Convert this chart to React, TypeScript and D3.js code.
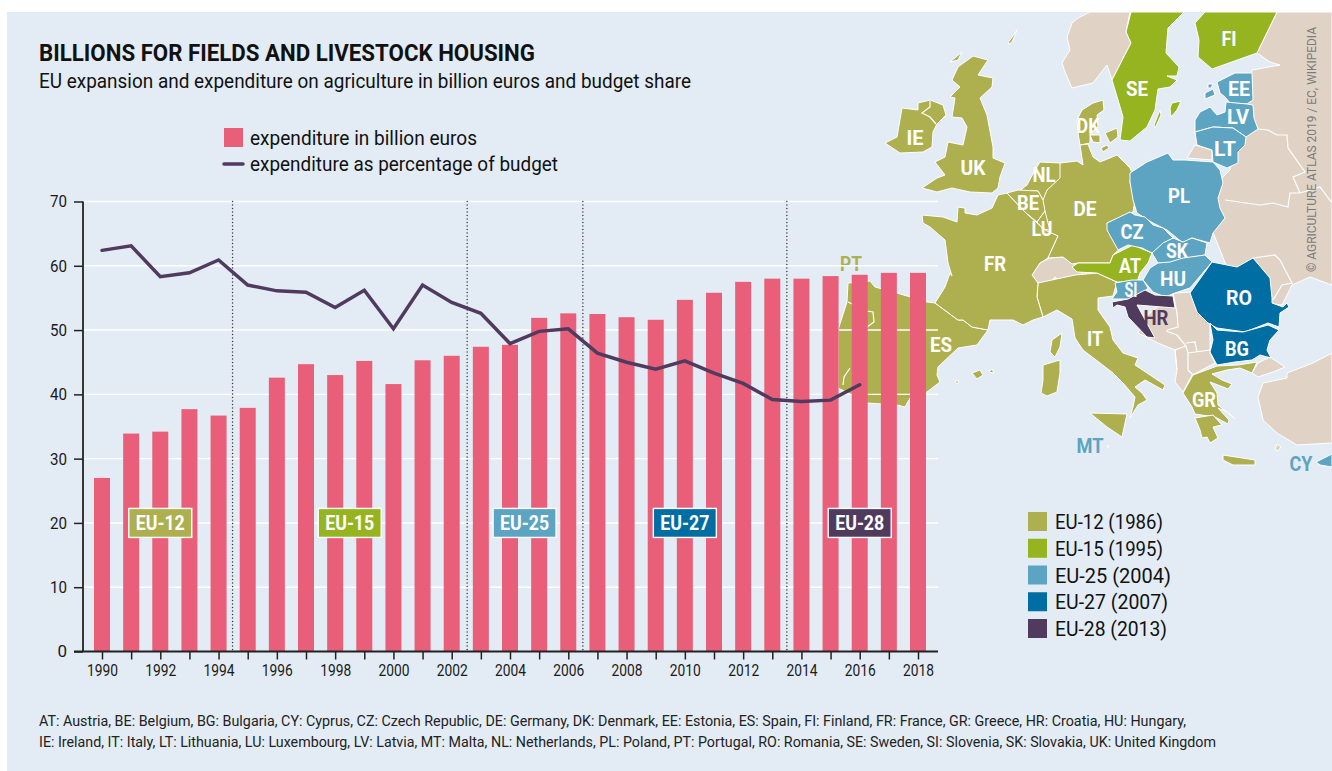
import React, { useEffect, useRef } from 'react';
import * as d3 from 'd3';

type Pt = [number, number];

const years = d3.range(1990, 2019);
const spending = [
  27, 33.9, 34.2, 37.7, 36.7, 37.9, 42.6, 44.7, 43, 45.2, 41.6, 45.3, 46, 47.4, 47.7, 51.9, 52.6,
  52.5, 52, 51.6, 54.7, 55.8, 57.5, 58, 58, 58.4, 58.6, 58.9, 58.9,
];
const budgetShare = [
  62.4, 63.1, 58.3, 58.9, 60.9, 57, 56.1, 55.9, 53.5, 56.2, 50.2, 57, 54.3, 52.6, 47.9, 49.8, 50.2,
  46.4, 45, 43.9, 45.2, 43.3, 41.7, 39.2, 38.9, 39.1, 41.5,
];
const yTicks = [0, 10, 20, 30, 40, 50, 60, 70];
const enlargementBreaks = [1994.48, 2002.53, 2006.5, 2013.5];

const OLIVE = '#aeb04f';
const GREEN = '#96b420';
const LIGHT_BLUE = '#5ca4c1';
const DARK_BLUE = '#006ea3';
const PURPLE = '#503a5e';
const PINK = '#e95f7a';
const BEIGE = '#e0d3c6';
const SEA = '#e3ecf4';

const eras = [
  { name: 'EU-12', at: 1992, color: OLIVE },
  { name: 'EU-15', at: 1998.5, color: GREEN },
  { name: 'EU-25', at: 2004.5, color: LIGHT_BLUE },
  { name: 'EU-27', at: 2010, color: DARK_BLUE },
  { name: 'EU-28', at: 2016, color: PURPLE },
];
const eraLegend = [
  { label: 'EU-12 (1986)', color: OLIVE, w: 108 },
  { label: 'EU-15 (1995)', color: GREEN, w: 108 },
  { label: 'EU-25 (2004)', color: LIGHT_BLUE, w: 116 },
  { label: 'EU-27 (2007)', color: DARK_BLUE, w: 113 },
  { label: 'EU-28 (2013)', color: PURPLE, w: 112 },
];

// map outlines, traced in page pixels
const beigeLand: Pt[][] = [
  [[1090,12],[1130,12],[1126,32],[1131,43],[1112,80],[1107,65],[1093,83],[1072,88],[1065,72],[1062,63],[1070,50],[1067,37],[1072,23],[1078,18]],
  [[1277,12],[1332,12],[1332,285],[1310,277],[1292,285],[1282,305],[1240,300],[1200,200],[1230,170],[1252,70],[1280,65],[1270,62],[1257,53]],
  [[1195,145],[1212,150],[1212,160],[1187,158]],
  [[1258,363],[1270,357],[1285,367],[1273,372],[1258,377],[1252,373]],
  [[1287,373],[1313,363],[1332,353],[1332,443],[1297,445],[1277,433],[1263,420],[1258,397],[1263,383],[1287,378]],
  [[1175,293],[1190,292],[1198,307],[1210,323],[1210,353],[1215,363],[1192,375],[1183,392],[1175,382],[1177,370],[1175,350],[1158,343],[1138,333],[1145,317]],
  [[1032,275],[1040,263],[1050,258],[1063,257],[1073,263],[1083,275],[1075,282],[1067,278],[1063,283],[1055,277],[1050,283],[1038,283]],
  [[1277,444],[1281,447],[1278,451],[1275,449]],
];
const oliveLand: Pt[][] = [
  // Italy and islands
  [[1043,317],[1037,297],[1038,283],[1075,275],[1097,273],[1117,282],[1113,296],[1098,298],[1098,310],[1110,327],[1113,340],[1123,353],[1138,358],[1135,365],[1165,385],[1163,390],[1145,380],[1135,387],[1142,393],[1147,400],[1138,405],[1130,418],[1133,407],[1135,397],[1123,383],[1113,373],[1100,363],[1083,350],[1075,338],[1072,319],[1057,310]],
  [[1043,365],[1060,360],[1060,373],[1057,392],[1047,396],[1041,393],[1043,380]],
  [[1052,340],[1062,333],[1060,347],[1055,357],[1050,352]],
  [[1090,413],[1127,414],[1122,437],[1107,427]],
  // Spain and Portugal
  [[935,303],[927,302],[897,293],[875,287],[870,281],[848,283],[847,302],[838,330],[838,388],[846,392],[867,403],[897,405],[905,407],[910,398],[927,392],[940,382],[937,375],[938,367],[958,348],[977,345],[988,330],[972,327],[963,320],[958,320]],
  [[972,373],[980,370],[983,375],[977,379]],
  [[989,372],[992,369],[994,373]],
  [[955,381],[959,381],[957,384]],
  // France
  [[1007,193],[1025,212],[1037,223],[1058,236],[1048,258],[1040,263],[1032,275],[1038,283],[1037,297],[1043,317],[1033,320],[1023,325],[1013,320],[990,320],[988,330],[972,327],[963,320],[958,320],[935,303],[945,287],[950,273],[952,276],[948,263],[945,240],[930,227],[923,223],[922,215],[943,217],[957,222],[958,207],[965,208],[965,213],[977,215],[992,208],[998,195]],
  // UK and Ireland
  [[973,56],[988,60],[978,75],[993,78],[992,87],[980,98],[987,115],[993,147],[993,158],[1005,163],[1000,177],[998,188],[992,193],[970,192],[952,188],[937,192],[922,188],[937,178],[945,175],[935,162],[945,157],[948,142],[963,145],[967,127],[962,118],[952,117],[955,98],[950,97],[960,87],[952,80],[958,67]],
  [[1008,43],[1017,30],[1012,42],[1009,44]],
  [[950,62],[962,52],[958,60]],
  [[885,143],[897,137],[902,108],[918,110],[918,103],[930,100],[943,105],[946,115],[937,124],[933,132],[932,147],[923,152],[900,153]],
  // Denmark
  [[1082,110],[1093,103],[1103,100],[1104,110],[1097,115],[1098,127],[1090,133],[1090,143],[1080,145],[1078,133],[1077,120]],
  [[1105,133],[1117,128],[1118,137],[1110,143]],
  [[1090,135],[1100,135],[1100,143],[1093,142]],
  [[1101,148],[1107,145],[1109,148],[1103,152]],
  // Germany, Benelux
  [[1060,163],[1077,161],[1083,165],[1080,145],[1088,144],[1093,157],[1100,162],[1117,155],[1130,168],[1132,173],[1130,182],[1135,200],[1133,212],[1107,223],[1112,238],[1122,247],[1113,255],[1110,263],[1078,263],[1072,264],[1063,257],[1048,258],[1058,236],[1045,230],[1037,223],[1045,212],[1040,203],[1047,190],[1058,178]],
  [[1040,162],[1060,163],[1060,178],[1047,190],[1043,200],[1038,191],[1018,192],[1027,185],[1035,170]],
  [[1007,193],[1018,190],[1038,191],[1043,200],[1045,211],[1037,222],[1025,212]],
  [[1037,222],[1045,211],[1048,223],[1050,230],[1043,229]],
  // Greece
  [[1193,375],[1217,366],[1238,365],[1257,362],[1252,373],[1240,368],[1227,370],[1212,374],[1222,380],[1232,384],[1228,389],[1218,385],[1210,382],[1217,393],[1218,405],[1235,419],[1228,412],[1218,408],[1229,420],[1228,424],[1215,417],[1195,414],[1192,407],[1183,393]],
  [[1195,418],[1213,415],[1222,425],[1213,427],[1218,438],[1210,443],[1207,437],[1202,438],[1200,430]],
  [[1223,455],[1255,460],[1255,465],[1233,465],[1223,460]],
];
const greenLand: Pt[][] = [
  [[1131,12],[1184,12],[1168,28],[1166,53],[1179,67],[1177,76],[1167,76],[1177,80],[1170,87],[1158,89],[1155,110],[1147,127],[1130,141],[1120,140],[1123,117],[1118,100],[1112,80],[1131,43],[1126,32]],
  [[1172,103],[1181,101],[1177,110],[1171,117],[1170,108]],
  [[1160,110],[1161,115],[1155,128],[1154,125]],
  [[1205,12],[1277,12],[1257,53],[1212,69],[1198,57],[1199,40],[1195,23]],
  [[1072,267],[1078,263],[1110,263],[1113,255],[1133,245],[1152,253],[1148,263],[1140,273],[1137,282],[1117,282],[1097,273],[1077,272]],
];
const lightBlueLand: Pt[][] = [
  [[1130,173],[1147,162],[1168,153],[1173,160],[1185,160],[1213,162],[1220,170],[1223,183],[1218,198],[1220,208],[1225,218],[1213,233],[1210,243],[1192,238],[1183,243],[1167,230],[1153,223],[1137,213],[1133,200],[1130,182]],
  [[1107,223],[1130,212],[1135,215],[1145,217],[1153,225],[1163,228],[1173,238],[1152,253],[1142,248],[1128,245],[1118,250],[1107,230]],
  [[1152,253],[1163,243],[1173,238],[1183,242],[1192,238],[1207,243],[1205,255],[1183,260],[1170,263],[1158,263]],
  [[1158,263],[1170,262],[1183,258],[1205,255],[1212,262],[1190,288],[1175,293],[1165,297],[1153,292],[1143,280],[1150,268]],
  [[1115,283],[1132,280],[1143,280],[1148,288],[1138,297],[1128,299],[1112,299],[1117,292]],
  [[1217,82],[1235,73],[1252,73],[1253,100],[1247,104],[1230,103],[1225,97],[1220,93]],
  [[1195,120],[1200,112],[1210,107],[1217,115],[1225,112],[1226,102],[1247,104],[1253,105],[1254,118],[1258,129],[1246,137],[1233,128],[1213,127],[1195,132]],
  [[1195,132],[1213,127],[1233,128],[1246,137],[1245,145],[1238,152],[1238,163],[1227,168],[1213,162],[1212,150],[1197,145]],
  [[1208,84],[1213,84],[1211,88],[1208,88]],
  [[1205,93],[1213,89],[1215,95],[1205,99]],
  [[1316,462],[1332,454],[1332,467],[1320,465]],
  [[1107,445],[1109,446],[1108,448]],
];
const darkBlueLand: Pt[][] = [
  [[1212,262],[1237,267],[1253,258],[1270,278],[1272,298],[1272,303],[1283,307],[1287,303],[1289,307],[1280,313],[1279,327],[1268,323],[1245,332],[1217,328],[1208,323],[1197,312],[1190,293]],
  [[1210,323],[1217,330],[1243,332],[1268,325],[1279,330],[1270,340],[1267,350],[1271,358],[1260,355],[1252,360],[1235,362],[1217,365],[1210,352],[1213,340]],
];
const purpleLand: Pt[][] = [
  [[1112,302],[1128,299],[1145,290],[1155,295],[1173,296],[1175,308],[1137,305],[1155,338],[1147,337],[1128,317],[1125,307],[1117,305],[1113,308]],
];
const borders: Pt[][] = [
  [[930,101],[930,107],[922,113],[930,117],[936,124]],
  [[848,302],[867,311],[873,312],[874,322],[867,327]],
  [[850,368],[844,377],[843,385]],
  [[1253,258],[1275,255],[1280,260],[1292,283],[1282,285],[1273,300]],
  [[1225,200],[1260,205],[1273,203],[1288,207],[1290,193],[1300,193],[1320,187],[1332,203]],
  [[1258,129],[1268,130],[1277,135],[1287,135],[1288,148],[1305,172],[1293,177],[1300,193]],
  [[1166,331],[1177,335],[1186,346],[1175,350],[1177,370]],
  [[1186,346],[1188,353],[1188,370],[1193,375]],
  [[1188,353],[1210,350]],
  [[1186,343],[1195,342],[1197,352]],
  [[1173,293],[1177,313],[1178,327],[1167,330]],
];

const mapLabels = [
  { t: 'IE', x: 915, y: 137, w: 17 }, { t: 'UK', x: 973, y: 167, w: 25 }, { t: 'DK', x: 1088, y: 125, w: 23 },
  { t: 'NL', x: 1044, y: 174, w: 23 }, { t: 'BE', x: 1028, y: 202, w: 22 }, { t: 'LU', x: 1042, y: 228, w: 21 },
  { t: 'DE', x: 1085, y: 208, w: 23 }, { t: 'FR', x: 995, y: 263, w: 22 }, { t: 'ES', x: 941, y: 344, w: 22 },
  { t: 'IT', x: 1095, y: 338, w: 16 }, { t: 'AT', x: 1130, y: 265, w: 22 }, { t: 'CZ', x: 1132, y: 231, w: 23 },
  { t: 'SK', x: 1177, y: 250, w: 22 }, { t: 'HU', x: 1173, y: 278, w: 26 }, { t: 'PL', x: 1179, y: 195, w: 22 },
  { t: 'SI', x: 1131, y: 289, w: 13 }, { t: 'RO', x: 1239, y: 297, w: 26 }, { t: 'BG', x: 1237, y: 348, w: 24 },
  { t: 'GR', x: 1204, y: 399, w: 24 }, { t: 'SE', x: 1137, y: 88, w: 22 }, { t: 'FI', x: 1229, y: 38, w: 15 },
  { t: 'EE', x: 1239, y: 88, w: 22 }, { t: 'LV', x: 1238, y: 116, w: 22 }, { t: 'LT', x: 1225, y: 148, w: 22 },
  { t: 'HR', x: 1156, y: 317, w: 25, c: PURPLE }, { t: 'PT', x: 851, y: 263, w: 22, c: OLIVE },
  { t: 'MT', x: 1090, y: 445, w: 27, c: LIGHT_BLUE }, { t: 'CY', x: 1301, y: 463, w: 23, c: LIGHT_BLUE },
];

const FONT = 'Roboto, sans-serif';

const x = d3.scaleLinear().domain([1990, 2018]).range([102, 918]);
const y = d3.scaleLinear().domain([0, 70]).range([651.5, 201.5]);
const BAR_W = 16;

const ring = d3.line<Pt>().curve(d3.curveLinearClosed);
const open = d3.line<Pt>();
const shareLine = d3
  .line<number>()
  .x((_, i) => x(years[i]))
  .y((d) => y(d));

const Land = ({ shapes, fill }: { shapes: Pt[][]; fill: string }) => (
  <g fill={fill} stroke="#fff" strokeWidth={1} strokeLinejoin="round">
    {shapes.map((s, i) => (
      <path key={i} d={ring(s) as string} />
    ))}
  </g>
);

const App = () => {
  const xAxisRef = useRef<SVGGElement>(null);
  const yAxisRef = useRef<SVGGElement>(null);

  useEffect(() => {
    const xAxis = d3
      .axisBottom(x)
      .tickValues(years)
      .tickSize(8)
      .tickFormat((d) => (+d % 2 === 0 ? String(d) : ''));
    const gx = d3.select(xAxisRef.current!).call(xAxis as any);
    gx.select('.domain').remove();
    gx.selectAll('line').attr('stroke', '#222').attr('stroke-width', 1.5);
    gx.selectAll('text')
      .attr('fill', '#1a1a1a')
      .attr('y', 13)
      .style('font', `16.5px ${FONT}`)
      .filter((d: any) => d % 2 === 0)
      .attr('textLength', 31)
      .attr('lengthAdjust', 'spacingAndGlyphs');

    const yAxis = d3.axisLeft(y).tickValues(yTicks).tickSize(9).tickPadding(7);
    const gy = d3.select(yAxisRef.current!).call(yAxis as any);
    gy.select('.domain').remove();
    gy.selectAll('line').attr('stroke', '#222').attr('stroke-width', 1.5);
    gy.selectAll('text')
      .attr('fill', '#1a1a1a')
      .style('font', `17px ${FONT}`)
      .filter((d: any) => d > 0)
      .attr('textLength', 17)
      .attr('lengthAdjust', 'spacingAndGlyphs');
  }, []);

  return (
    <svg
      width={1332}
      height={771}
      style={{ position: 'absolute', left: 0, top: 0, fontFamily: FONT }}
    >
      <rect width={1332} height={771} fill="#fff" />
      <rect x={7} y={12} width={1325} height={759} fill={SEA} />

      {/* map sits behind the chart */}
      <Land shapes={beigeLand} fill={BEIGE} />
      <Land shapes={oliveLand} fill={OLIVE} />
      <Land shapes={greenLand} fill={GREEN} />
      <Land shapes={lightBlueLand} fill={LIGHT_BLUE} />
      <Land shapes={darkBlueLand} fill={DARK_BLUE} />
      <Land shapes={purpleLand} fill={PURPLE} />
      <g fill="none" stroke="#fff" strokeWidth={1.2}>
        {borders.map((b, i) => (
          <path key={i} d={open(b) as string} />
        ))}
      </g>
      <g fontSize={21} fontWeight={700} textAnchor="middle" fill="#fff">
        {mapLabels.map((l) => (
          <text key={l.t} x={l.x} y={l.y} dy="0.36em" fill={l.c} textLength={l.w} lengthAdjust="spacingAndGlyphs">
            {l.t}
          </text>
        ))}
      </g>

      <text
        transform="translate(1316,272) rotate(-90)"
        fontSize={13.5}
        fill="#7b7b7b"
        textLength={245}
        lengthAdjust="spacingAndGlyphs"
      >
        © AGRICULTURE ATLAS 2019 / EC, WIKIPEDIA
      </text>

      <text x={39} y={61} fontSize={23.5} fontWeight={700} fill="#111" textLength={496} lengthAdjust="spacingAndGlyphs">
        BILLIONS FOR FIELDS AND LIVESTOCK HOUSING
      </text>
      <text x={39} y={88} fontSize={21} fill="#111" textLength={652} lengthAdjust="spacingAndGlyphs">
        EU expansion and expenditure on agriculture in billion euros and budget share
      </text>

      <rect x={224} y={128} width={19} height={19} fill={PINK} />
      <text x={250} y={145} fontSize={20.5} fill="#111" textLength={227} lengthAdjust="spacingAndGlyphs">
        expenditure in billion euros
      </text>
      <line x1={224} x2={243} y1={164} y2={164} stroke={PURPLE} strokeWidth={3.5} strokeLinecap="round" />
      <text x={250} y={171} fontSize={20.5} fill="#111" textLength={308} lengthAdjust="spacingAndGlyphs">
        expenditure as percentage of budget
      </text>

      {/* gridlines, bars, line */}
      <g stroke="#fff" strokeWidth={1.4}>
        {yTicks.slice(1).map((t) => (
          <line key={t} x1={83} x2={938} y1={y(t)} y2={y(t)} />
        ))}
      </g>
      {enlargementBreaks.map((b) => (
        <line
          key={b}
          x1={x(b)}
          x2={x(b)}
          y1={y(70)}
          y2={y(0)}
          stroke="#3a3a3a"
          strokeWidth={1.5}
          strokeLinecap="round"
          strokeDasharray="0.1 3.4"
        />
      ))}
      {spending.map((v, i) => (
        <rect
          key={years[i]}
          x={x(years[i]) - BAR_W / 2}
          y={y(v)}
          width={BAR_W}
          height={y(0) - y(v)}
          fill={PINK}
        />
      ))}
      <path
        d={shareLine(budgetShare) as string}
        fill="none"
        stroke={PURPLE}
        strokeWidth={3.5}
        strokeLinecap="round"
      />

      <g ref={xAxisRef} transform={`translate(0,${y(0)})`} />
      <g ref={yAxisRef} transform="translate(83,0)" />
      <line x1={83} x2={83} y1={y(70)} y2={y(0)} stroke="#222" strokeWidth={1.8} />
      <line x1={74} x2={938} y1={y(0)} y2={y(0)} stroke="#222" strokeWidth={1.8} />

      {eras.map((e) => (
        <g key={e.name} transform={`translate(${x(e.at)},${y(20)})`}>
          <rect x={-31.5} y={-14.5} width={63} height={29} fill={e.color} stroke="#fff" strokeWidth={1.4} />
          <text textAnchor="middle" dy="0.36em" fontSize={21} fontWeight={700} fill="#fff" textLength={49} lengthAdjust="spacingAndGlyphs">
            {e.name}
          </text>
        </g>
      ))}

      {eraLegend.map((e, i) => (
        <g key={e.label} transform={`translate(1028,${512 + i * 26.75})`}>
          <rect width={19} height={19} fill={e.color} />
          <text x={27} y={17} fontSize={21} fill="#111" textLength={e.w} lengthAdjust="spacingAndGlyphs">
            {e.label}
          </text>
        </g>
      ))}

      <text x={39} y={726} fontSize={15.5} fill="#222" textLength={1147} lengthAdjust="spacingAndGlyphs">
        AT: Austria, BE: Belgium, BG: Bulgaria, CY: Cyprus, CZ: Czech Republic, DE: Germany, DK: Denmark, EE: Estonia, ES: Spain, FI: Finland, FR: France, GR: Greece, HR: Croatia, HU: Hungary,
      </text>
      <text x={39} y={747} fontSize={15.5} fill="#222" textLength={1177} lengthAdjust="spacingAndGlyphs">
        IE: Ireland, IT: Italy, LT: Lithuania, LU: Luxembourg, LV: Latvia, MT: Malta, NL: Netherlands, PL: Poland, PT: Portugal, RO: Romania, SE: Sweden, SI: Slovenia, SK: Slovakia, UK: United Kingdom
      </text>
    </svg>
  );
};

export default App;
